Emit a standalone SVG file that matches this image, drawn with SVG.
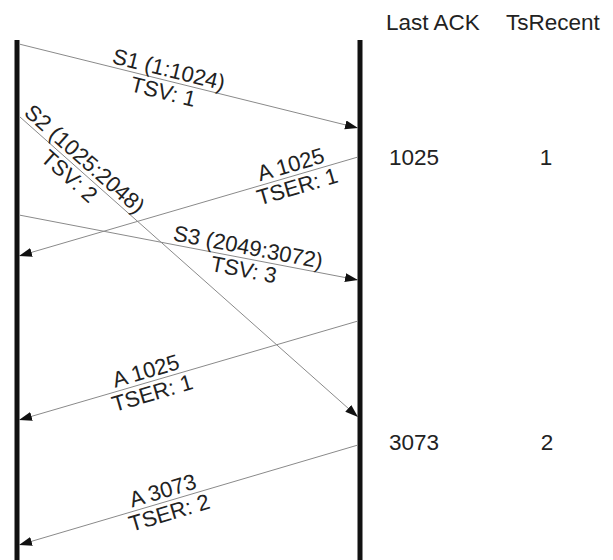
<svg xmlns="http://www.w3.org/2000/svg" width="613" height="560" viewBox="0 0 613 560">
<style>
.life{stroke:#111;stroke-width:5;fill:none}
.msg{stroke:#8a8a8a;stroke-width:1;fill:none;marker-end:url(#ah)}
.lbl{font-family:"Liberation Sans",Arial,sans-serif;font-size:22px;fill:#222;text-anchor:middle}
.tbl{font-family:"Liberation Sans",Arial,sans-serif;font-size:22.5px;fill:#222}
</style>
<defs>
<marker id="ah" markerUnits="userSpaceOnUse" markerWidth="14" markerHeight="10" refX="13" refY="4.5" orient="auto">
<path d="M0,0 L13,4.5 L0,9 z" fill="#111"/>
</marker>
</defs>
<rect width="613" height="560" fill="#fff"/>
<g id="sender"><line class="life" x1="17" y1="40" x2="17" y2="560"/></g>
<g id="receiver"><line class="life" x1="360" y1="40" x2="360" y2="560"/></g>
<g id="table">
<text class="tbl" x="386" y="30">Last ACK</text>
<text class="tbl" x="506" y="30">TsRecent</text>
<text class="tbl" x="389" y="165">1025</text>
<text class="tbl" x="546" y="165" text-anchor="middle">1</text>
<text class="tbl" x="389" y="450">3073</text>
<text class="tbl" x="547" y="450" text-anchor="middle">2</text>
</g>
<g id="connectors">
<line class="msg" x1="19" y1="44" x2="358" y2="128"/>
<line class="msg" x1="358" y1="157" x2="19" y2="256"/>
<line class="msg" x1="20" y1="117" x2="358" y2="417"/>
<line class="msg" x1="19" y1="215" x2="358" y2="280"/>
<line class="msg" x1="358" y1="321" x2="19" y2="420"/>
<line class="msg" x1="358" y1="445" x2="19" y2="545"/>
</g>
<g id="labels">
<g transform="translate(166,80.6) rotate(13.9)"><text class="lbl" y="-4">S1 (1:1024)</text><text class="lbl" y="19">TSV: 1</text></g>
<g transform="translate(294,175.6) rotate(-16.3)"><text class="lbl" y="-4">A 1025</text><text class="lbl" y="19">TSER: 1</text></g>
<g transform="translate(77,167.5) rotate(41.6)"><text class="lbl" y="-4">S2 (1025:2048)</text><text class="lbl" y="19">TSV: 2</text></g>
<g transform="translate(246,258.4) rotate(10.9)"><text class="lbl" y="-4">S3 (2049:3072)</text><text class="lbl" y="19">TSV: 3</text></g>
<g transform="translate(149,382) rotate(-16.3)"><text class="lbl" y="-4">A 1025</text><text class="lbl" y="19">TSER: 1</text></g>
<g transform="translate(166,501.7) rotate(-16.5)"><text class="lbl" y="-4">A 3073</text><text class="lbl" y="19">TSER: 2</text></g>
</g>
</svg>
